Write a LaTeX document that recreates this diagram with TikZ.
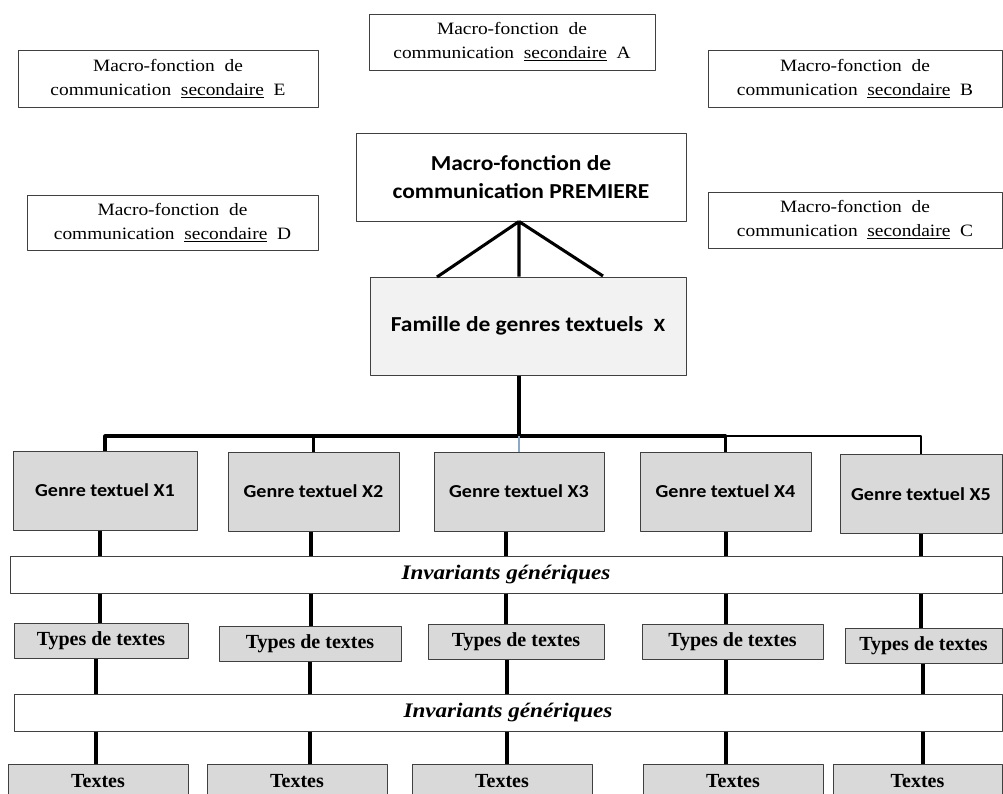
\documentclass[tikz,border=0pt]{standalone}
\usepackage{fontspec}
\setmainfont{Liberation Serif}
\newfontfamily\calib[FakeStretch=1.1]{Carlito}
\newfontfamily\timesw[FakeStretch=1.12]{Liberation Serif}
\definecolor{boxgray}{HTML}{D9D9D9}
\definecolor{boxlight}{HTML}{F2F2F2}
\definecolor{edgegray}{HTML}{404040}
\definecolor{steel}{HTML}{8EA9C8}
\begin{document}
\begin{tikzpicture}[x=.75pt, y=-.75pt, line join=round,
	wh/.style 2 args={minimum width=#1*.75pt, minimum height=#2*.75pt},
	box/.style={draw=edgegray, line width=.75pt, inner sep=0pt, align=center},
	sec/.style={box, font=\timesw\fontsize{13}{18}\selectfont},
	prem/.style={box, font=\calib\bfseries\fontsize{16}{21}\selectfont},
	genre/.style={box, fill=boxgray, font=\calib\bfseries\fontsize{13.7}{17}\selectfont},
	inv/.style={box, font=\timesw\bfseries\itshape\fontsize{15.5}{18}\selectfont},
	types/.style={box, fill=boxgray, font=\bfseries\fontsize{15}{18}\selectfont},
	conn/.style={line width=2.3pt}]
	\useasboundingbox (0,0) rectangle (1003,793);
	% macro-fonctions secondaires
	\node[sec, wh={286}{56}] (secA) at (512,42) {Macro-fonction\ \ de\\communication\ \ \underline{secondaire}\ \ A};
	\node[sec, wh={300}{57}] (secE) at (168,78.5) {Macro-fonction\ \ de\\communication\ \ \underline{secondaire}\ \ E};
	\node[sec, wh={294}{57}] (secB) at (855,78.5) {Macro-fonction\ \ de\\communication\ \ \underline{secondaire}\ \ B};
	\node[sec, wh={291}{55}] (secD) at (172.5,222.5) {Macro-fonction\ \ de\\communication\ \ \underline{secondaire}\ \ D};
	\node[sec, wh={294}{56}] (secC) at (855,220) {Macro-fonction\ \ de\\communication\ \ \underline{secondaire}\ \ C};
	% macro-fonction premiere et famille
	\node[prem, wh={330}{88}] (prem) at (521,177) {Macro-fonction de\\communication PREMIERE};
	\node[prem, fill=boxlight, wh={316}{98}] (fam) at (528,326) {Famille de genres textuels\ \ {\fontsize{14}{17}\selectfont X}};
	% genres, types, textes
	\foreach \i/\cx/\cy/\w in {1/105/490.5/184, 2/313.5/491.5/171, 3/519/491.5/170, 4/725.5/491.5/171, 5/921/494/162}
		\node[genre, wh={\w}{79}] (g\i) at (\cx,\cy) {Genre textuel X\i};
	\node[inv, wh={992}{37}] (inv1) at (506,574.5) {Invariants g\'en\'eriques};
	\foreach \i/\cx/\cy/\w in {1/101/640.5/174, 2/310/644/182, 3/516/642/176, 4/732.5/642/181, 5/923.5/646/157}
		\node[types, wh={\w}{35}] (t\i) at (\cx,\cy) {Types de textes};
	\node[inv, wh={988}{37}] (inv2) at (508,712.5) {Invariants g\'en\'eriques};
	\foreach \i/\cx/\w in {1/98/180, 2/297/180, 3/502/180, 4/733/180, 5/917.5/169}
		\node[types, wh={\w}{34}] (x\i) at (\cx,781) {Textes};
	% liens
	\coordinate (bus) at (519,436);
	\coordinate (fl) at (437,277); \coordinate (fr) at (603,276);
	\draw[conn] (bus |- prem.south) -- (fl) (bus |- prem.south) -- (bus |- fam.north) (bus |- prem.south) -- (fr);
	\draw[conn] (bus |- fam.south) -- (bus);
	\draw[conn] (g1.north) -- (g1.north |- bus) -- (g4.north |- bus) -- (g4.north);
	\draw[line width=1.8pt] (g4.north |- bus) -- (g5.north |- bus) -- (g5.north);
	\draw[conn] (g2.north) -- (g2.north |- bus);
	\draw[line width=1.8pt, steel] (bus) -- (g3.north);
	\foreach \i/\c in {1/100, 2/311, 3/506, 4/726, 5/921} {
		\coordinate (c\i) at (\c,0);
		\draw[conn] (c\i |- g\i.south) -- (c\i |- inv1.north);
		\draw[conn] (c\i |- inv1.south) -- (c\i |- t\i.north);
	}
	\foreach \i/\c in {1/96, 2/310, 3/507, 4/726, 5/923} {
		\coordinate (d\i) at (\c,0);
		\draw[conn] (d\i |- t\i.south) -- (d\i |- inv2.north);
		\draw[conn] (d\i |- inv2.south) -- (d\i |- x\i.north);
	}
\end{tikzpicture}
\end{document}
